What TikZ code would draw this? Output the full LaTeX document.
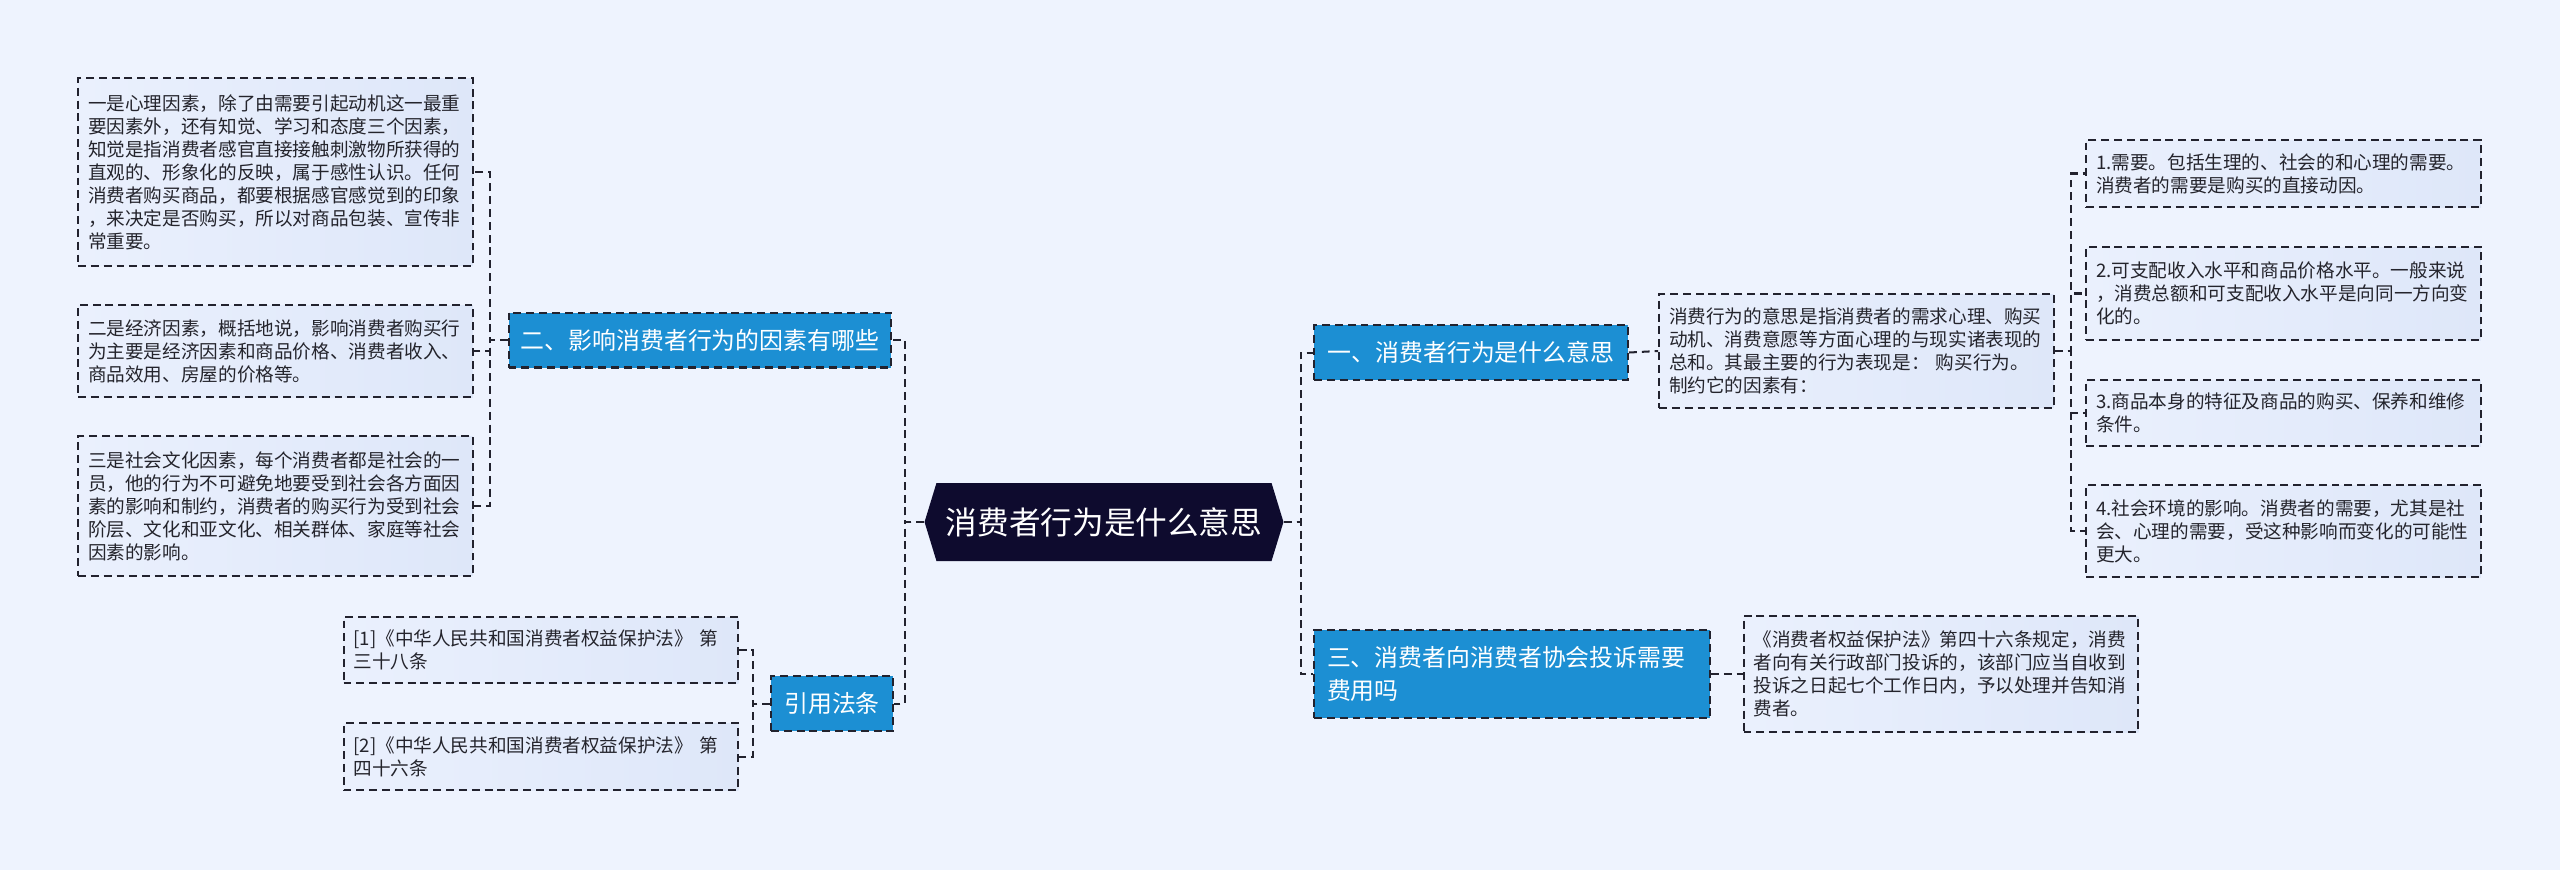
\documentclass[tikz,border=0pt]{standalone}
\usepackage{fontspec}
\setmainfont{Noto Sans CJK SC}
\usepackage{xcolor}
\usetikzlibrary{
  arrows.meta, shapes.symbols, shapes.geometric,
  positioning, calc
}
\definecolor{CanvasBlue}{RGB}{238,243,254}
\definecolor{LeafLight}{RGB}{234,240,253}
\definecolor{LeafFill}{RGB}{222,231,249}
\definecolor{BranchBlue}{RGB}{28,143,211}
\definecolor{RootNavy}{RGB}{14,11,46}
\definecolor{LineDark}{RGB}{34,34,46}
\definecolor{TextDark}{RGB}{36,36,44}
\tikzset{
  dashline/.style={draw=LineDark, line width=1.15pt, dash pattern=on 4.5pt off 2.8pt},
  link/.style={dashline},
  leafbox/.style={dashline, left color=LeafLight, right color=LeafFill, text=TextDark,
    font=\fontsize{10.6}{13.1}\selectfont, align=left,
    text width=7.5cm, inner xsep=0.2cm, inner ysep=0pt},
  branchbox/.style={dashline, fill=BranchBlue, text=white,
    font=\fontsize{13.6}{18.5}\selectfont, align=center,
    minimum height=1.1cm, inner xsep=0.2cm, inner ysep=0pt},
  rootbox/.style={signal, signal to=west and east, signal pointer angle=146,
    fill=RootNavy, text=white, font=\fontsize{18}{22}\selectfont,
    minimum width=7.18cm, minimum height=1.56cm, inner xsep=0.1cm}
}
\begin{document}
\begin{tikzpicture}[x=0.02cm,y=-0.02cm]
  \fill[CanvasBlue] (0,0) rectangle (2560,870);
  % centre topic
  \node[rootbox] (root) at (1104,522) {消费者行为是什么意思};
  % main topics
  \node[branchbox, minimum width=7.66cm] (why) at (700,340) {二、影响消费者行为的因素有哪些};
  \node[branchbox, minimum width=2.44cm] (law) at (832,703.5) {引用法条};
  \node[branchbox, minimum width=6.28cm] (what) at (1471,352.5) {一、消费者行为是什么意思};
  \node[branchbox, minimum width=7.92cm, minimum height=1.76cm, text width=7.4cm,
    align=left] (fee) at (1512,674) {三、消费者向消费者协会投诉需要\\费用吗};
  % left side leaves
  \node[leafbox, minimum height=3.76cm] (mind) at (275.5,172)
    {一是心理因素，除了由需要引起动机这一最重\\要因素外，还有知觉、学习和态度三个因素，\\知觉是指消费者感官直接接触刺激物所获得的\\直观的、形象化的反映，属于感性认识。任何\\消费者购买商品，都要根据感官感觉到的印象\\，来决定是否购买，所以对商品包装、宣传非\\常重要。};
  \node[leafbox, minimum height=1.84cm] (econ) at (275.5,351)
    {二是经济因素，概括地说，影响消费者购买行\\为主要是经济因素和商品价格、消费者收入、\\商品效用、房屋的价格等。};
  \node[leafbox, minimum height=2.8cm] (society) at (275.5,506)
    {三是社会文化因素，每个消费者都是社会的一\\员，他的行为不可避免地要受到社会各方面因\\素的影响和制约，消费者的购买行为受到社会\\阶层、文化和亚文化、相关群体、家庭等社会\\因素的影响。};
  \node[leafbox, minimum height=1.32cm] (lawa) at (541,650)
    {[1]《中华人民共和国消费者权益保护法》 第\\三十八条};
  \node[leafbox, minimum height=1.34cm] (lawb) at (541,756.5)
    {[2]《中华人民共和国消费者权益保护法》 第\\四十六条};
  % right side leaves
  \node[leafbox, minimum height=2.28cm] (meaning) at (1856.5,351)
    {消费行为的意思是指消费者的需求心理、购买\\动机、消费意愿等方面心理的与现实诸表现的\\总和。其最主要的行为表现是： 购买行为。\\制约它的因素有：};
  \node[leafbox, minimum height=1.34cm] (need) at (2283.5,173.5)
    {1.需要。包括生理的、社会的和心理的需要。\\消费者的需要是购买的直接动因。};
  \node[leafbox, minimum height=1.86cm] (income) at (2283.5,293.5)
    {2.可支配收入水平和商品价格水平。一般来说\\，消费总额和可支配收入水平是向同一方向变\\化的。};
  \node[leafbox, minimum height=1.32cm] (goods) at (2283.5,413)
    {3.商品本身的特征及商品的购买、保养和维修\\条件。};
  \node[leafbox, minimum height=1.84cm] (milieu) at (2283.5,531)
    {4.社会环境的影响。消费者的需要，尤其是社\\会、心理的需要，受这种影响而变化的可能性\\更大。};
  \node[leafbox, minimum height=2.32cm] (rule) at (1941,674)
    {《消费者权益保护法》第四十六条规定，消费\\者向有关行政部门投诉的，该部门应当自收到\\投诉之日起七个工作日内，予以处理并告知消\\费者。};
  % connectors
  \draw[link] (root.west) -- ++(-19,0) |- (why.east);
  \draw[link] (root.west) -- ++(-19,0) |- (law.east);
  \draw[link] (root.east) -- ++(17,0) |- (what.west);
  \draw[link] (root.east) -- ++(17,0) |- (fee.west);
  \draw[link] (why.west) -- ++(-18,0) |- (mind.east);
  \draw[link] (why.west) -- ++(-18,0) |- (econ.east);
  \draw[link] (why.west) -- ++(-18,0) |- (society.east);
  \draw[link] (law.west) -- ++(-17,0) |- (lawa.east);
  \draw[link] (law.west) -- ++(-17,0) |- (lawb.east);
  \draw[link] (what.east) -- (meaning.west);
  \draw[link] (meaning.east) -- ++(16,0) |- (need.west);
  \draw[link] (meaning.east) -- ++(16,0) |- (income.west);
  \draw[link] (meaning.east) -- ++(16,0) |- (goods.west);
  \draw[link] (meaning.east) -- ++(16,0) |- (milieu.west);
  \draw[link] (fee.east) -- (rule.west);
\end{tikzpicture}
\end{document}
